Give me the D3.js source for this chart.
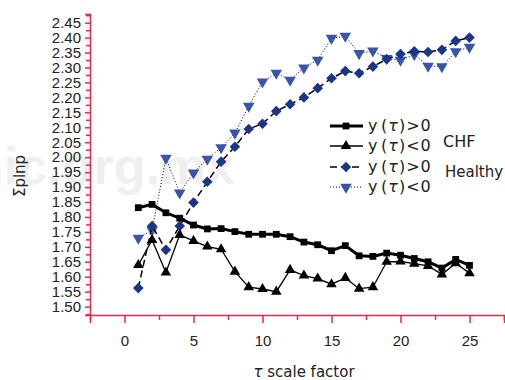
<!DOCTYPE html>
<meta charset="utf-8">
<html>
<head>
<script src="https://d3js.org/d3.v7.min.js"></script>
<style>
body { margin: 0; background: #fff; }
svg { font-family: "DejaVu Sans", sans-serif; }
.axis path, .axis line { stroke: #e8294a; stroke-width: 1.5; }
.axis text { fill: #222; font-size: 15px; }
</style>
</head>
<body>
<div id="chart"></div>
<script>
// scale factor tau
var tau = [1,2,3,4,5,6,7,8,9,10,11,12,13,14,15,16,17,18,19,20,21,22,23,24,25];

// CHF, y(tau) > 0
var chfPos = [1.831,1.842,1.814,1.796,1.773,1.760,1.761,1.751,1.742,1.742,1.742,1.734,1.716,1.707,1.687,1.704,1.670,1.668,1.679,1.672,1.661,1.650,1.629,1.658,1.638];
// CHF, y(tau) < 0
var chfNeg = [1.639,1.723,1.614,1.740,1.720,1.701,1.692,1.617,1.565,1.559,1.550,1.623,1.604,1.594,1.575,1.596,1.560,1.565,1.650,1.651,1.644,1.636,1.608,1.645,1.612];
// Healthy, y(tau) > 0
var healthyPos = [1.562,1.770,1.690,1.770,1.848,1.918,1.985,2.035,2.094,2.112,2.154,2.177,2.200,2.231,2.264,2.288,2.281,2.303,2.328,2.345,2.354,2.352,2.359,2.389,2.400];
// Healthy, y(tau) < 0
var healthyNeg = [1.729,1.756,1.997,1.881,1.948,1.994,2.032,2.081,2.171,2.252,2.281,2.258,2.299,2.325,2.398,2.405,2.347,2.356,2.331,2.325,2.343,2.305,2.303,2.353,2.368];

var xTicks = d3.range(-2.5, 27.6, 2.5);
var yTicks = d3.range(59, 100).map(function(i) { return i * 0.025; });

var seriesNames = ["y", "y", "y", "y"];
var seriesLabels = ["(\u03c4)>0", "(\u03c4)<0", "(\u03c4)>0", "(\u03c4)<0"];
var groupNames = ["CHF", "Healthy"];

var width = 505, height = 380;

var svg = d3.select("#chart").append("svg")
  .attr("width", width)
  .attr("height", height);

// watermark
svg.append("text")
  .attr("x", 235)
  .attr("y", 184)
  .attr("text-anchor", "end")
  .style("font-family", "Liberation Sans, Arial")
  .style("font-weight", "bold")
  .style("font-size", "52px")
  .style("fill", "#efefef")
  .text("medigraphic.org.mx");

var x = d3.scaleLinear().domain([-2.5, 27.5]).range([90, 504]);
var y = d3.scaleLinear().domain([1.472, 2.479]).range([315, 14]);

var xAxis = svg.append("g")
  .attr("class", "x axis")
  .attr("transform", "translate(0,315)")
  .call(d3.axisBottom(x)
    .tickValues(xTicks)
    .tickSizeOuter(0)
    .tickSize(8)
    .tickPadding(12)
    .tickFormat(function(d) { return d % 5 === 0 ? d3.format("d")(d) : ""; }));
xAxis.selectAll(".tick line")
  .attr("y2", function(d) { return d % 5 === 0 ? 8 : 5; });

var yAxis = svg.append("g")
  .attr("class", "y axis")
  .attr("transform", "translate(90,0)")
  .call(d3.axisLeft(y)
    .tickValues(yTicks)
    .tickSizeOuter(0)
    .tickSize(5)
    .tickPadding(4)
    .tickFormat(function(d, i) { return Math.round(d * 1000) % 50 === 0 ? d3.format(".2f")(d) : ""; }));
yAxis.selectAll(".tick line")
  .attr("x2", function(d) { return Math.round(d * 1000) % 50 === 0 ? -5 : -4; });

// axis titles
svg.append("text")
  .attr("transform", "translate(25,176) rotate(-90)")
  .attr("text-anchor", "middle")
  .style("font-size", "15px")
  .style("fill", "#222")
  .text("\u03a3plnp");

var xt = svg.append("text")
  .attr("x", 304)
  .attr("y", 377)
  .attr("text-anchor", "middle")
  .style("font-size", "15px")
  .style("fill", "#222");
xt.append("tspan").style("font-style", "italic").text("\u03c4");
xt.append("tspan").text(" scale factor");

var series = [
  { values: chfPos, stroke: "#000", width: 3, dash: null, symbol: d3.symbolSquare, size: 46, fill: "#000", rotate: 0 },
  { values: chfNeg, stroke: "#000", width: 1.3, dash: null, symbol: d3.symbolTriangle, size: 48, fill: "#000", rotate: 0 },
  { values: healthyPos, stroke: "#000", width: 1.5, dash: "7,4", symbol: d3.symbolSquare, size: 56, fill: "#1b3589", rotate: 45 },
  { values: healthyNeg, stroke: "#000", width: 1, dash: "1,2", symbol: d3.symbolTriangle, size: 58, fill: "#3a55a8", rotate: 180 }
];

var line = d3.line()
  .x(function(d) { return x(d[0]); })
  .y(function(d) { return y(d[1]); });

// draw lines first (last series drawn on top)
series.slice().reverse().forEach(function(s) {
  var pts = tau.map(function(t, i) { return [t, s.values[i]]; });
  svg.append("path")
    .attr("d", line(pts))
    .attr("fill", "none")
    .attr("stroke", s.stroke)
    .attr("stroke-width", s.width)
    .attr("stroke-dasharray", s.dash);
  svg.append("g").selectAll("path")
    .data(pts).enter()
    .append("path")
    .attr("d", d3.symbol().type(s.symbol).size(s.size))
    .attr("transform", function(d) {
      return "translate(" + x(d[0]) + "," + y(d[1]) + ") rotate(" + s.rotate + ")";
    })
    .attr("fill", s.fill);
});

// legend
var legendRows = [126, 146, 167, 187];
var legend = svg.append("g");
series.forEach(function(s, i) {
  var ly = legendRows[i];
  legend.append("line")
    .attr("x1", 330).attr("x2", 363)
    .attr("y1", ly).attr("y2", ly)
    .attr("stroke", s.stroke)
    .attr("stroke-width", s.width)
    .attr("stroke-dasharray", s.dash);
  legend.append("path")
    .attr("d", d3.symbol().type(s.symbol).size(s.size))
    .attr("transform", "translate(346," + ly + ") rotate(" + s.rotate + ")")
    .attr("fill", s.fill);
  legend.append("text")
    .attr("x", 368).attr("y", ly + 5)
    .style("font-size", "16px")
    .style("fill", "#222")
    .text(seriesNames[i]);
  var lt = legend.append("text")
    .attr("x", 381).attr("y", ly + 5)
    .style("font-size", "16px")
    .style("fill", "#222")
    .style("letter-spacing", "1px");
  lt.append("tspan").text("(");
  lt.append("tspan").style("font-style", "italic").text("\u03c4");
  lt.append("tspan").text(seriesLabels[i].slice(2));
});
legend.append("text")
  .attr("x", 443).attr("y", 147)
  .style("font-size", "16px").style("fill", "#222")
  .text(groupNames[0]);
legend.append("text")
  .attr("x", 445).attr("y", 177)
  .style("font-size", "15px").style("fill", "#222")
  .text(groupNames[1]);
</script>
</body>
</html>
